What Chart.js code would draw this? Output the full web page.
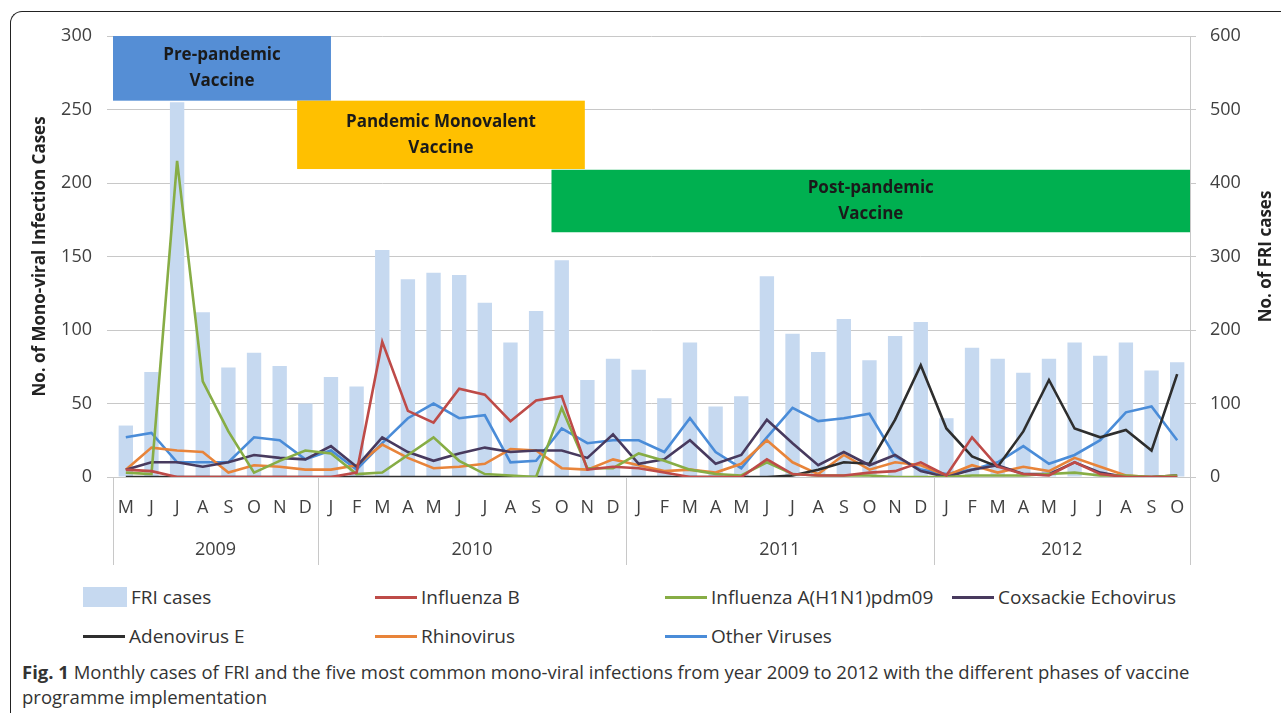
<!DOCTYPE html>
<html>
<head>
<meta charset="utf-8">
<script src="https://cdn.jsdelivr.net/npm/chart.js@4.4.1/dist/chart.umd.min.js"></script>
<style>
  body { margin: 0; background: #fff; font-family: 'Open Sans', sans-serif; color: #333; }
  #frame { position: absolute; left: 10px; top: 11px; width: 1300px; height: 720px;
    border-left: 1.5px solid #222; border-top: 1.5px solid #222; border-top-left-radius: 12px; }
  #wrap { position: absolute; left: 0; top: 0; width: 1281px; height: 580px; }
  .item { position: absolute; display: flex; align-items: center; font-size: 19px; color: #333; height: 24px; }
  .item .line { width: 42px; height: 3px; margin-right: 4px; }
  .item .box { width: 44px; height: 20px; margin-right: 4px; }
  #caption { position: absolute; left: 22px; top: 659px; width: 1200px; font-size: 18.5px; line-height: 25px; color: #333; }
</style>
</head>
<body>
<div id="frame"></div>
<div id="wrap"><canvas id="chart"></canvas></div>
<div id="legend"></div>
<div id="caption"><b>Fig. 1</b> Monthly cases of FRI and the five most common mono-viral infections from year 2009 to 2012 with the different phases of vaccine programme implementation</div>
<script>
const months = ['M', 'J', 'J', 'A', 'S', 'O', 'N', 'D',
  'J', 'F', 'M', 'A', 'M', 'J', 'J', 'A', 'S', 'O', 'N', 'D',
  'J', 'F', 'M', 'A', 'M', 'J', 'J', 'A', 'S', 'O', 'N', 'D',
  'J', 'F', 'M', 'A', 'M', 'J', 'J', 'A', 'S', 'O'];
const years = ['2009', '2010', '2011', '2012'];
const monthsPerYear = [8, 12, 12, 10];

const fri = [70, 143, 510, 224, 149, 169, 151, 100,
  136, 123, 309, 269, 278, 275, 237, 183, 226, 295, 132, 161,
  146, 107, 183, 96, 110, 273, 195, 170, 215, 159, 192, 211,
  80, 176, 161, 142, 161, 183, 165, 183, 145, 156];
const influenzaB = [5, 4, 0, 0, 0, 0, 0, 0,
  0, 3, 92, 45, 37, 60, 56, 38, 52, 55, 5, 7,
  6, 3, 0, 0, 0, 12, 2, 1, 1, 3, 4, 10,
  1, 27, 7, 2, 1, 10, 2, 0, 0, 0];
const influenzaA = [3, 2, 215, 65, 31, 3, 11, 18,
  16, 2, 3, 15, 27, 11, 2, 1, 0, 47, 6, 6,
  16, 11, 5, 2, 1, 10, 2, 1, 1, 1, 0, 0,
  0, 1, 1, 1, 2, 3, 1, 1, 0, 1];
const coxsackie = [5, 10, 10, 7, 10, 15, 13, 12,
  21, 7, 27, 17, 11, 16, 20, 17, 18, 18, 13, 29,
  9, 12, 25, 9, 15, 39, 23, 8, 17, 8, 15, 4,
  0, 5, 8, 2, 2, 10, 3, 0, 0, 1];
const adenovirus = [0, 0, 0, 0, 0, 0, 0, 0,
  0, 0, 0, 0, 0, 0, 0, 0, 0, 0, 0, 0,
  0, 0, 0, 0, 0, 0, 1, 5, 10, 9, 39, 76,
  33, 14, 7, 31, 66, 33, 27, 32, 18, 70];
const rhinovirus = [5, 20, 18, 17, 3, 8, 7, 5,
  5, 8, 22, 13, 6, 7, 9, 19, 18, 6, 5, 12,
  8, 4, 5, 3, 9, 25, 10, 2, 15, 5, 10, 8,
  1, 8, 3, 7, 4, 13, 7, 1, 0, 1];
const otherViruses = [27, 30, 10, 10, 10, 27, 25, 12,
  18, 5, 23, 40, 50, 40, 42, 10, 11, 33, 23, 25,
  25, 17, 40, 17, 6, 27, 47, 38, 40, 43, 14, 5,
  2, 5, 10, 21, 9, 15, 25, 44, 48, 25];

// vaccine phases: x in category units, y on left axis
const phases = [
  { text: ['Pre-pandemic', 'Vaccine'], x0: -0.5, x1: 8, y0: 256, y1: 300, color: '#558ed5' },
  { text: ['Pandemic Monovalent', 'Vaccine'], x0: 6.68, x1: 17.9, y0: 209.5, y1: 256, color: '#ffc000' },
  { text: ['Post-pandemic', 'Vaccine'], x0: 16.6, x1: 41.5, y0: 166.5, y1: 209, color: '#00b050' },
];

const font = "'Open Sans', sans-serif";

const lineSet = (label, data, color) => ({
  type: 'line', label, data, borderColor: color, backgroundColor: color,
  borderWidth: 2.6, pointRadius: 0, tension: 0, yAxisID: 'y', order: 1,
});

const extras = {
  id: 'extras',
  afterDatasetsDraw(chart) {
    const { ctx, scales: { x, y } } = chart;
    const step = x.getPixelForValue(1) - x.getPixelForValue(0);
    ctx.save();
    phases.forEach((p) => {
      const left = x.getPixelForValue(0) + (p.x0) * step;
      const right = x.getPixelForValue(0) + (p.x1) * step;
      const top = y.getPixelForValue(p.y1);
      const bottom = y.getPixelForValue(p.y0);
      ctx.fillStyle = p.color;
      ctx.fillRect(left, top, right - left, bottom - top);
      ctx.fillStyle = '#1a1a1a';
      ctx.font = 'bold 17px ' + font;
      ctx.textAlign = 'center';
      ctx.textBaseline = 'middle';
      const cx = (left + right) / 2;
      const cy = (top + bottom) / 2;
      ctx.fillText(p.text[0], cx, cy - 13);
      ctx.fillText(p.text[1], cx, cy + 13);
    });
    ctx.restore();
  },
  afterDraw(chart) {
    const { ctx, chartArea, scales: { x } } = chart;
    const step = x.getPixelForValue(1) - x.getPixelForValue(0);
    ctx.save();
    ctx.strokeStyle = '#c8c8c8';
    ctx.lineWidth = 1;
    ctx.fillStyle = '#404040';
    ctx.font = '18px ' + font;
    ctx.textAlign = 'center';
    ctx.textBaseline = 'middle';
    let idx = 0;
    const edge = (i) => x.getPixelForValue(i) - step / 2;
    for (let k = 0; k <= years.length; k++) {
      const px = Math.round(edge(idx)) + 0.5;
      ctx.beginPath();
      ctx.moveTo(px, chartArea.bottom);
      ctx.lineTo(px, chartArea.bottom + 88);
      ctx.stroke();
      if (k < years.length) {
        const mid = (edge(idx) + edge(idx + monthsPerYear[k])) / 2;
        ctx.fillText(years[k], mid, chartArea.bottom + 73);
        idx += monthsPerYear[k];
      }
    }
    // right axis title, reading bottom to top
    ctx.translate(1266, (chartArea.top + chartArea.bottom) / 2);
    ctx.rotate(-Math.PI / 2);
    ctx.fillStyle = '#222';
    ctx.font = 'bold 17px ' + font;
    ctx.fillText('No. of FRI cases', 0, 0);
    ctx.restore();
  },
};

const config = {
  type: 'bar',
  data: {
    labels: months,
    datasets: [
      {
        type: 'bar', label: 'FRI cases', data: fri, backgroundColor: '#c6d9f0',
        yAxisID: 'y1', order: 2, barPercentage: 0.56, categoryPercentage: 1,
      },
      lineSet('Influenza B', influenzaB, '#be4b48'),
      lineSet('Influenza A(H1N1)pdm09', influenzaA, '#87ad45'),
      lineSet('Coxsackie Echovirus', coxsackie, '#483a5e'),
      lineSet('Adenovirus E', adenovirus, '#2e2e2e'),
      lineSet('Rhinovirus', rhinovirus, '#e8843a'),
      lineSet('Other Viruses', otherViruses, '#4a8cd8'),
    ],
  },
  options: {
    responsive: true,
    maintainAspectRatio: false,
    animation: false,
    layout: { padding: { top: 36, left: 0, right: 0, bottom: 0 } },
    scales: {
      x: {
        grid: { display: false, drawTicks: false },
        border: { display: true, color: '#c8c8c8' },
        ticks: {
          autoSkip: false, maxRotation: 0, padding: 20,
          color: '#404040', font: { family: font, size: 18 },
        },
        afterFit(scale) { scale.height = 103; },
      },
      y: {
        position: 'left', min: 0, max: 300,
        ticks: { stepSize: 50, padding: 15, color: '#404040', font: { family: font, size: 18 } },
        grid: { color: '#c8c8c8', tickLength: 6 },
        border: { display: false },
        title: {
          display: true, text: 'No. of Mono-viral Infection Cases', color: '#222',
          font: { family: font, size: 17, weight: 'bold' }, padding: { top: 30, bottom: 0 },
        },
        afterFit(scale) { scale.width = 113; },
      },
      y1: {
        position: 'right', min: 0, max: 600,
        ticks: { stepSize: 100, padding: 14, color: '#404040', font: { family: font, size: 18 } },
        grid: { drawOnChartArea: false, color: '#c8c8c8', tickLength: 6 },
        border: { display: true, color: '#c8c8c8' },
        afterFit(scale) { scale.width = 91; },
      },
    },
    plugins: {
      legend: { display: false },
      tooltip: { enabled: false },
    },
  },
  plugins: [extras],
};

const chart = new Chart(document.getElementById('chart'), config);

// legend laid out in a 4-column grid below the chart
const legendSpots = [[83, 597], [375, 597], [665, 597], [952, 597], [83, 636], [375, 636], [665, 636]];
const legend = document.getElementById('legend');
chart.data.datasets.forEach((ds, i) => {
  const item = document.createElement('div');
  item.className = 'item';
  item.style.left = legendSpots[i][0] + 'px';
  item.style.top = (legendSpots[i][1] - 12) + 'px';
  const mark = document.createElement('span');
  mark.className = ds.type === 'bar' ? 'box' : 'line';
  mark.style.background = ds.backgroundColor;
  item.appendChild(mark);
  item.appendChild(document.createTextNode(ds.label));
  legend.appendChild(item);
});
</script>
</body>
</html>
